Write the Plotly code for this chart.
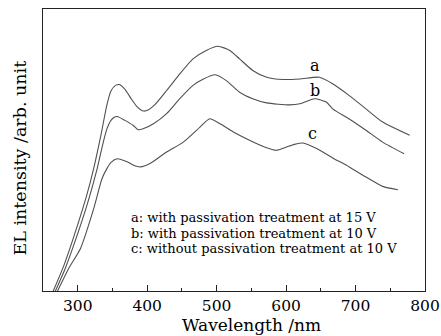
import plotly.graph_objects as go

# Curve a: with passivation treatment at 15 V
wl_a = [263, 280, 294, 313, 323, 334, 342, 348, 355, 360, 368, 378, 386, 395, 402, 410, 428, 447, 466, 485, 502, 519, 533, 552, 572, 596, 620, 648, 667, 691, 715, 739, 778]
el_a = [-1, 9, 19, 34, 43.5, 56, 66, 71, 73, 73.2, 71.5, 67.8, 65.2, 63.8, 64.3, 65.8, 71.1, 77, 82.3, 85.3, 86.8, 85.3, 82.3, 78.2, 75.8, 75.0, 75.2, 75.8, 73.5, 69.3, 64.6, 59.9, 55.2]

# Curve b: with passivation treatment at 10 V
wl_b = [266, 282, 296, 314, 328, 337, 342, 347, 352, 357, 368, 380, 387, 395, 409, 428, 447, 466, 481, 498, 514, 533, 552, 572, 605, 620, 641, 658, 667, 691, 715, 739, 770]
el_b = [-1, 8, 17.5, 31, 43.4, 53, 57.5, 60.2, 61.5, 61.9, 60.5, 58.7, 57.2, 57.6, 59.3, 62.9, 68.2, 72.9, 75.2, 76.7, 74.6, 70.5, 68.2, 66.7, 66.0, 66.4, 68.2, 67.0, 64.6, 61.0, 57.0, 52.8, 48.7]

# Curve c: without passivation treatment at 10 V
wl_c = [269, 287, 304, 323, 335, 342, 348, 357, 371, 381, 390, 404, 428, 452, 476, 490, 505, 524, 548, 572, 586, 600, 612, 624, 644, 667, 691, 715, 739, 761]
el_c = [-1, 8, 15.1, 29.2, 39.9, 43.4, 45.6, 46.9, 45.8, 44.5, 44.0, 45.2, 49.3, 52.8, 58.1, 61.1, 59.3, 56.4, 53.4, 50.8, 49.9, 51.0, 52.0, 52.5, 50.5, 47.2, 44.0, 40.4, 37.1, 35.9]

curve_labels = ["a", "b", "c"]
label_x = [641, 641, 638]
label_y = [80, 71.1, 55.8]

legend_lines = [
    "a: with passivation treatment at 15 V",
    "b: with passivation treatment at 10 V",
    "c: without passivation treatment at 10 V",
]
legend_y = [25.9, 20.5, 15.0]

x_ticks = [300, 400, 500, 600, 700, 800]
x_minor = [350, 450, 550, 650, 750]
x_title = "Wavelength /nm"
y_title = "EL intensity /arb. unit"

font_family = "DejaVu Serif"
line_color = "#505050"
text_color = "#000000"

fig = go.Figure()
for wl, el in [(wl_a, el_a), (wl_b, el_b), (wl_c, el_c)]:
    fig.add_trace(go.Scatter(x=wl, y=el, mode="lines", line=dict(color=line_color, width=1.1, shape="spline", smoothing=0.6), showlegend=False, hoverinfo="skip"))

annotations = []
for t, x, y in zip(curve_labels, label_x, label_y):
    annotations.append(dict(x=x, y=y, text=t, showarrow=False, xref="x", yref="y",
                            font=dict(family=font_family, size=16, color=text_color)))
for t, y in zip(legend_lines, legend_y):
    annotations.append(dict(x=375, y=y, text=t, showarrow=False, xref="x", yref="y",
                            xanchor="left", borderpad=0,
                            font=dict(family=font_family, size=13, color=text_color)))
# axis titles (offset from plot centre as in the reference)
annotations.append(dict(x=550, y=-0.16, xref="x", yref="paper", text=x_title, showarrow=False,
                        xanchor="center", yanchor="bottom", borderpad=0,
                        font=dict(family=font_family, size=17, color=text_color)))
annotations.append(dict(x=-0.06, y=0.47, xref="paper", yref="paper", text=y_title, showarrow=False,
                        textangle=-90, xanchor="center", yanchor="middle", borderpad=0,
                        font=dict(family=font_family, size=17.5, color=text_color)))

fig.update_layout(
    width=441, height=336,
    margin=dict(l=43, r=16, t=9, b=45),
    paper_bgcolor="white", plot_bgcolor="white",
    annotations=annotations,
    font=dict(family=font_family, color=text_color),
)
fig.update_xaxes(
    range=[250, 800], tickvals=x_ticks,
    ticks="inside", ticklen=6, tickwidth=1, tickcolor="#222",
    minor=dict(tickvals=x_minor, ticks="inside", ticklen=3, tickcolor="#222"),
    showline=True, linecolor="#222", linewidth=1.2, mirror=True, showgrid=False, zeroline=False,
    tickfont=dict(family=font_family, size=15.5, color=text_color),
    ticklabeloverflow="allow", automargin=False,
)
fig.update_yaxes(
    range=[0, 100], showticklabels=False, ticks="", automargin=False,
    showline=True, linecolor="#222", linewidth=1.2, mirror=True, showgrid=False, zeroline=False,
)
fig.write_html("out.html")
